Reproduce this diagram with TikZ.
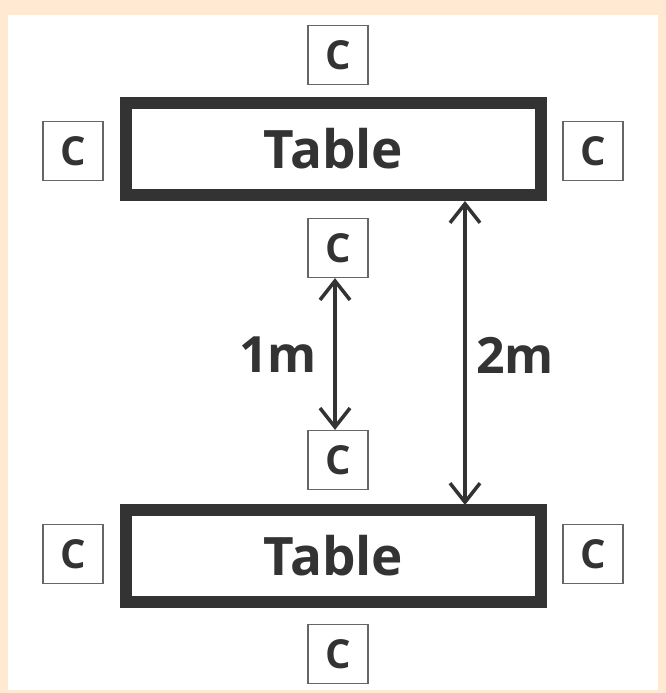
\documentclass[tikz,border=0pt]{standalone}
\usepackage{fontspec}
\setmainfont{Open Sans}
\usetikzlibrary{arrows.meta}
\definecolor{ink}{HTML}{333333}
\definecolor{peach}{HTML}{FFE9D3}
\definecolor{boxline}{HTML}{666666}
\tikzset{
  barb/.tip={Straight Barb[length=19pt,width=30pt,line width=3.5pt]},
  tablebox/.style={draw=ink, line width=12pt, fill=white, minimum width=415pt,
    minimum height=92pt, inner sep=0pt, font=\bfseries\fontsize{53}{60}\selectfont, text=ink},
  chair/.style={draw=boxline, line width=1.2pt, fill=white, minimum width=60pt,
    minimum height=59pt, inner sep=0pt, font=\bfseries\fontsize{40}{44}\selectfont, text=ink},
  dim/.style={draw=ink, line width=3.5pt, {barb}-{barb}},
  dimlabel/.style={font=\bfseries\fontsize{50}{56}\selectfont, text=ink, inner sep=0pt}
}
\begin{document}
\begin{tikzpicture}[x=1pt,y=-1pt]
  % page background and inner panel
  \fill[peach] (0,0) rectangle (666,693);
  \fill[white] (8,15) rectangle (658,690);
  \useasboundingbox (0,0) rectangle (666,693);

  % upper table with its chairs
  \node[tablebox] (t1) at (333.5,149) {Table};
  \node[chair] (c1n) at (338,55) {C};
  \node[chair] (c1w) at (73,151) {C};
  \node[chair] (c1e) at (593,151) {C};
  \node[chair] (c1s) at (338,248) {C};

  % lower table with its chairs
  \node[tablebox] (t2) at (333.5,555.5) {Table};
  \node[chair] (c2n) at (338,460) {C};
  \node[chair] (c2w) at (73,554) {C};
  \node[chair] (c2e) at (593,554) {C};
  \node[chair] (c2s) at (338,654) {C};

  % dimension lines
  \coordinate (a1) at (465,201);
  \coordinate (a2) at (465,505);
  \draw[dim] (c1s.south -| 335,0) -- (c2n.north -| 335,0);
  \draw[dim] (a1) -- (a2);
  \node[dimlabel, anchor=east] (l1) at (317,355) {1m};
  \node[dimlabel, anchor=west] (l2) at (476,355) {2m};
\end{tikzpicture}
\end{document}
